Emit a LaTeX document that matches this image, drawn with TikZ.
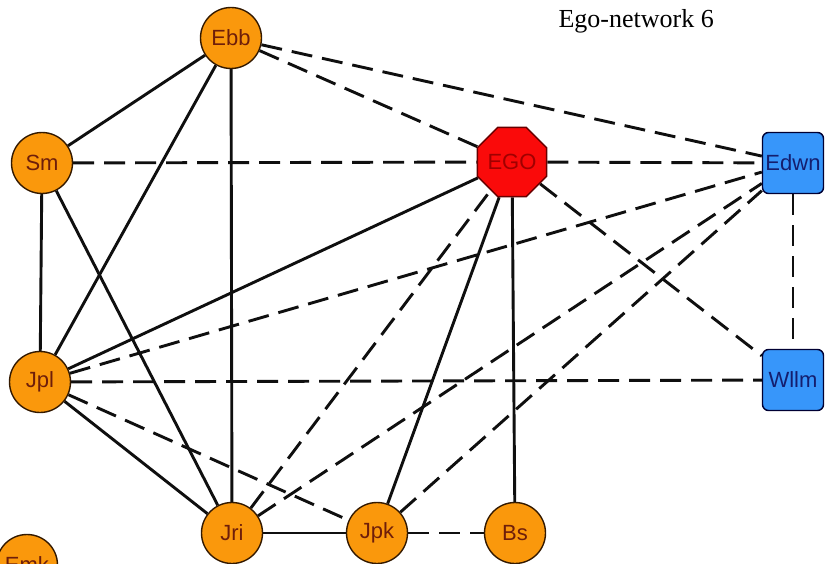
\documentclass[tikz,border=0pt]{standalone}
\usepackage{fontspec}
\setmainfont{Liberation Serif}
\newfontfamily\labelfont{Liberation Sans}
\usetikzlibrary{shapes.geometric,backgrounds}
\definecolor{orangefill}{RGB}{250,152,12}
\definecolor{bluefill}{RGB}{55,150,250}
\definecolor{egofill}{RGB}{250,10,10}
\definecolor{orangetext}{RGB}{110,30,10}
\definecolor{bluetext}{RGB}{20,30,110}
\definecolor{egotext}{RGB}{160,0,0}
\definecolor{edgecol}{RGB}{15,15,15}
\begin{document}
\begin{tikzpicture}[x=1pt,y=-1pt,
  person/.style={circle,draw=black!80!orange,line width=1.4pt,fill=orangefill,
    minimum size=61pt,inner sep=0pt,text=orangetext,font=\labelfont\fontsize{22}{22}\selectfont},
  other/.style={rounded corners=6pt,rectangle,draw=black!80!blue,line width=1.4pt,fill=bluefill,
    minimum width=61pt,minimum height=61pt,inner sep=0pt,text=bluetext,font=\labelfont\fontsize{22}{22}\selectfont},
  egonode/.style={regular polygon,regular polygon sides=8,draw=black!60!red,line width=1.4pt,fill=egofill,
    minimum size=66pt,inner sep=0pt,text=egotext,font=\labelfont\fontsize{22}{22}\selectfont},
  tie/.style={draw=edgecol,line width=2.9pt},
  weak/.style={draw=edgecol,line width=2.9pt,dash pattern=on 21pt off 10pt}]
\useasboundingbox (0,0) rectangle (835,564);
\clip (0,0) rectangle (835,564);
\node[anchor=base west,font=\fontsize{26}{26}\selectfont] (title) at (555,28) {Ego-network 6};
% nodes
\node[person] (Ebb) at (231,38) {Ebb};
\node[person] (Sm)  at (42,163) {Sm};
\node[person] (Jpl) at (40,382) {Jpl};
\node[person] (Jri) at (232,533) {Jri};
\node[person] (Jpk) at (377,533) {Jpk};
\node[person] (Bs)  at (515,533) {Bs};
\node[person] (Emk) at (27,565) {Emk};
\node[egonode] (EGO) at (512,162) {EGO};
\node[other] (Edwn) at (793,163) {Edwn};
\node[other] (Wllm) at (793,380) {Wllm};
% edges behind nodes
\begin{scope}[on background layer]
\fill[white] (0,0) rectangle (835,564);
% solid ties
\draw[tie] (Ebb) -- (Sm);
\draw[tie] (Ebb) -- (Jpl);
\draw[tie] (Ebb) -- (Jri);
\draw[tie] (Sm) -- (Jpl);
\draw[tie] (Sm) -- (Jri);
\draw[tie] (Jpl) -- (EGO);
\draw[tie] (Jpl) -- (Jri);
\draw[tie] (Jri) -- (Jpk);
\draw[tie] (EGO) -- (Jpk);
\draw[tie] (EGO) -- (Bs);
% dashed ties
\draw[weak] (Ebb) -- (EGO);
\draw[weak] (Ebb) -- (Edwn);
\draw[weak] (Sm) -- (EGO);
\draw[weak] (EGO) -- (Edwn);
\draw[weak] (EGO) -- (Wllm);
\draw[weak] (Edwn) -- (Wllm);
\draw[weak] (Jpl) -- (Wllm);
\draw[weak] (Jpl) -- (Edwn);
\draw[weak] (Jpl) -- (Jpk);
\draw[weak] (Jri) -- (EGO);
\draw[weak] (Jri) -- (Edwn);
\draw[weak] (Jpk) -- (Edwn);
\draw[weak] (Jpk) -- (Bs);
\end{scope}
\end{tikzpicture}
\end{document}
